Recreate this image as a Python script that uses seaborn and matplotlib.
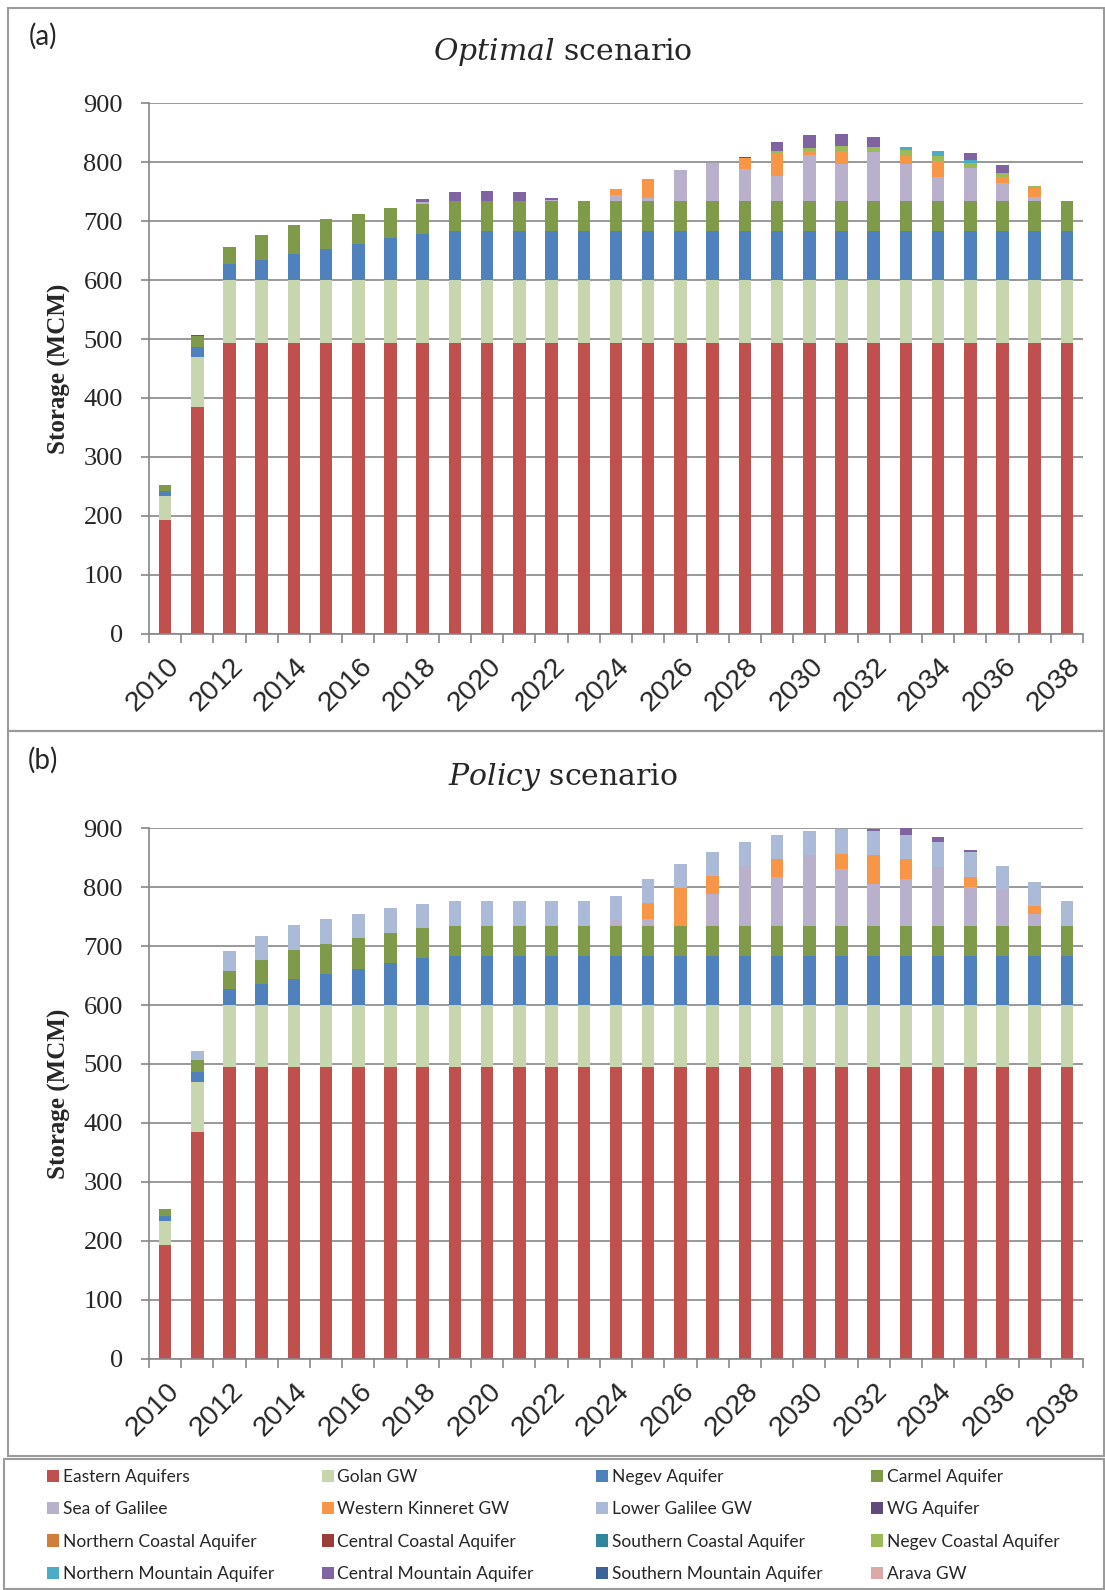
import numpy as np
import pandas as pd
import matplotlib
matplotlib.use("Agg")
import matplotlib.pyplot as plt
import matplotlib.transforms as mtransforms
from matplotlib.patches import Patch, Rectangle
import seaborn as sns

# ---------------------------------------------------------------- data (MCM)
years = [2010, 2011, 2012, 2013, 2014, 2015, 2016, 2017, 2018, 2019,
         2020, 2021, 2022, 2023, 2024, 2025, 2026, 2027, 2028, 2029,
         2030, 2031, 2032, 2033, 2034, 2035, 2036, 2037, 2038]
year_labels = [str(y) for y in years]

# sources shared by both scenarios
eastern = [192, 385, 494, 494, 494, 494, 494, 494, 494, 494,
           494, 494, 494, 494, 494, 494, 494, 494, 494, 494,
           494, 494, 494, 494, 494, 494, 494, 494, 494]
golan = [42, 84, 106, 106, 106, 106, 106, 106, 106, 106,
         106, 106, 106, 106, 106, 106, 106, 106, 106, 106,
         106, 106, 106, 106, 106, 106, 106, 106, 106]
negev = [8, 17, 27, 35, 44, 53, 62, 71, 79, 84,
         84, 84, 84, 84, 84, 84, 84, 84, 84, 84,
         84, 84, 84, 84, 84, 84, 84, 84, 84]
carmel = [11, 20, 30, 41, 50, 51, 51, 52, 51, 51,
          51, 51, 51, 51, 51, 51, 51, 51, 51, 51,
          51, 51, 51, 51, 51, 51, 51, 51, 51]

# Optimal scenario
opt_sea_galilee = [0, 0, 0, 0, 0, 0, 0, 0, 3, 0,
                   0, 0, 1.5, 0, 9, 4.5, 51.5, 63.5, 53, 41,
                   77.5, 62, 83, 62, 40, 55, 30.5, 5.5, 0]
opt_w_kinneret = [0, 0, 0, 0, 0, 0, 0, 0, 0, 0,
                  0, 0, 0, 0, 10.5, 32, 0, 0, 20, 39.5,
                  6, 23, 0, 14.5, 27.5, 0, 9, 16, 0]
opt_negev_coastal = [0, 0, 0, 0, 0, 0, 0, 0, 0, 0,
                     0, 0, 0, 0, 0, 0, 0, 0, 0, 3,
                     5.5, 8, 8.5, 9, 9, 8, 7, 3.5, 0]
opt_n_mountain = [0, 0, 0, 0, 0, 0, 0, 0, 0, 0,
                  0, 0, 0, 0, 0, 0, 0, 0, 0, 0,
                  0, 0, 0, 5, 8, 6, 0, 0, 0]
opt_c_mountain = [0, 0, 0, 0, 0, 0, 0, 0, 5.5, 14.5,
                  16.5, 14.5, 2.5, 0, 0, 0, 0, 0, 0, 16,
                  23, 20.5, 17, 0, 0, 11, 13.5, 0, 0]
opt_s_mountain = [0, 1.5, 0, 0, 0, 0, 0, 0, 0, 0,
                  0, 0, 0, 0, 0, 0, 0, 0, 1.5, 0,
                  0, 0, 0, 0, 0, 0, 0, 0, 0]

# Policy scenario
pol_sea_galilee = [0, 0, 0, 0, 0, 0, 0, 0, 0, 0,
                   0, 0, 0, 0, 9, 11.5, 0, 54, 100.5, 82.5,
                   119.5, 96, 70, 79, 99.5, 65, 61, 19.5, 0]
pol_w_kinneret = [0, 0, 0, 0, 0, 0, 0, 0, 0, 0,
                  0, 0, 0, 0, 0, 26.5, 63, 29.5, 0, 30,
                  0, 25.5, 49.5, 33.5, 0, 18, 0, 13.5, 0]
pol_l_galilee = [0, 16.5, 34, 41, 41.5, 41.5, 41.5, 42, 41.5, 41.5,
                 41.5, 41.5, 41.5, 41.5, 40.5, 41, 41, 41.5, 41, 40.5,
                 40.5, 42.5, 41.5, 40.5, 41.5, 41, 40.5, 41.5, 41.5]
pol_c_mountain = [0, 0, 0, 0, 0, 0, 0, 0, 0, 0,
                  0, 0, 0, 0, 0, 0, 0, 0, 0, 0,
                  0, 0, 2, 14, 10, 3.5, 0, 0, 0]

# ---------------------------------------------------------------- styling
sources = ["Eastern Aquifers", "Golan GW", "Negev Aquifer", "Carmel Aquifer",
           "Sea of Galilee", "Western Kinneret GW", "Lower Galilee GW", "WG Aquifer",
           "Northern Coastal Aquifer", "Central Coastal Aquifer",
           "Southern Coastal Aquifer", "Negev Coastal Aquifer",
           "Northern Mountain Aquifer", "Central Mountain Aquifer",
           "Southern Mountain Aquifer", "Arava GW"]
colors = {
    "Eastern Aquifers": "#C0504D",
    "Golan GW": "#C7D6AE",
    "Negev Aquifer": "#4F81BD",
    "Carmel Aquifer": "#7F9A48",
    "Sea of Galilee": "#B9B0CB",
    "Western Kinneret GW": "#F79646",
    "Lower Galilee GW": "#AABAD7",
    "WG Aquifer": "#604A7B",
    "Northern Coastal Aquifer": "#D07E3A",
    "Central Coastal Aquifer": "#9C3C3A",
    "Southern Coastal Aquifer": "#31859C",
    "Negev Coastal Aquifer": "#9BBB59",
    "Northern Mountain Aquifer": "#4BACC6",
    "Central Mountain Aquifer": "#8064A2",
    "Southern Mountain Aquifer": "#3B6399",
    "Arava GW": "#DBA9A8",
}

optimal_layers = [
    ("Eastern Aquifers", eastern), ("Golan GW", golan),
    ("Negev Aquifer", negev), ("Carmel Aquifer", carmel),
    ("Sea of Galilee", opt_sea_galilee), ("Western Kinneret GW", opt_w_kinneret),
    ("Negev Coastal Aquifer", opt_negev_coastal),
    ("Northern Mountain Aquifer", opt_n_mountain),
    ("Central Mountain Aquifer", opt_c_mountain),
    ("Southern Mountain Aquifer", opt_s_mountain),
]
policy_layers = [
    ("Eastern Aquifers", eastern), ("Golan GW", golan),
    ("Negev Aquifer", negev), ("Carmel Aquifer", carmel),
    ("Sea of Galilee", pol_sea_galilee), ("Western Kinneret GW", pol_w_kinneret),
    ("Lower Galilee GW", pol_l_galilee),
    ("Central Mountain Aquifer", pol_c_mountain),
]

sns.set_theme(style="white")
plt.rcParams["font.family"] = ["Liberation Serif", "DejaVu Serif"]
plt.rcParams["mathtext.fontset"] = "custom"
plt.rcParams["mathtext.rm"] = "DejaVu Serif"
plt.rcParams["mathtext.it"] = "DejaVu Serif:italic"

GRAY = "#878787"
W, H = 1105, 1590
fig = plt.figure(figsize=(W / 100, H / 100), dpi=100)
fig.patch.set_facecolor("white")


def fx(px):
    return px / W


def fy(py):
    return 1 - py / H


def draw_panel(ax, layers):
    tops = np.cumsum(np.array([v for _, v in layers], dtype=float), axis=0)
    # paint cumulative totals from the top layer down so each source shows
    for i in range(len(layers) - 1, -1, -1):
        name = layers[i][0]
        df = pd.DataFrame({"year": year_labels, "top": tops[i]})
        sns.barplot(data=df, x="year", y="top", order=year_labels,
                    color=colors[name], saturation=1, width=0.39,
                    errorbar=None, linewidth=0, ax=ax)
    ax.set_xlim(-0.5, len(years) - 0.5)
    ax.set_ylim(0, 900)
    ax.set_yticks(np.arange(0, 901, 100))
    ax.set_yticklabels([str(v) for v in range(0, 901, 100)],
                       fontsize=19, family="Liberation Serif")
    ax.set_xticks(np.arange(0, len(years), 2))
    ax.set_xticklabels(year_labels[::2], rotation=45, ha="right",
                       fontsize=20.5, family="Liberation Sans")
    ax.set_xticks(np.arange(-0.5, len(years), 1), minor=True)
    ax.tick_params(axis="x", which="major", length=0, pad=14)
    ax.tick_params(axis="x", which="minor", length=6.5, width=1.2,
                   color=GRAY, direction="out", bottom=True)
    ax.tick_params(axis="y", length=5.8, width=1.2, color=GRAY,
                   pad=13, direction="out", left=True)
    offset = mtransforms.ScaledTranslation(19 / 100, 0, fig.dpi_scale_trans)
    for lab in ax.get_xticklabels():
        lab.set_transform(lab.get_transform() + offset)
    ax.yaxis.grid(True, color=GRAY, linewidth=1.2)
    ax.xaxis.grid(False)
    ax.set_axisbelow(True)
    for side in ("top", "right"):
        ax.spines[side].set_visible(False)
    for side in ("left", "bottom"):
        ax.spines[side].set_color(GRAY)
        ax.spines[side].set_linewidth(1.2)
    ax.set_xlabel("")
    ax.set_ylabel("Storage (MCM)", fontsize=18, fontweight="bold",
                  family="Liberation Serif")
    ax.yaxis.set_label_coords(-0.0835, 0.5)


ax_a = fig.add_axes([fx(149), fy(633.6), fx(934), 530.2 / H])
ax_b = fig.add_axes([fx(149), fy(1358.5), fx(934), 530.2 / H])
draw_panel(ax_a, optimal_layers)
draw_panel(ax_b, policy_layers)

# titles and panel letters
fig.text(fx(563), fy(52), r"$\mathit{Optimal}$ scenario", ha="center",
         va="center", fontsize=21.5, family="DejaVu Serif")
fig.text(fx(563), fy(776.5), r"$\mathit{Policy}$ scenario", ha="center",
         va="center", fontsize=21.5, family="DejaVu Serif")
fig.text(fx(43), fy(36), "(a)", ha="center", va="center", fontsize=20,
         family="Lato")
fig.text(fx(43), fy(760), "(b)", ha="center", va="center", fontsize=20,
         family="Lato")

# panel frames
for (x0, y0, x1, y1) in [(8, 7.5, 1104, 731), (8, 731, 1104, 1456),
                         (4, 1459, 1104, 1589)]:
    fig.add_artist(Rectangle((fx(x0), fy(y1)), fx(x1 - x0), (y1 - y0) / H,
                             transform=fig.transFigure, fill=False,
                             edgecolor="#9A9A9A", linewidth=1.5))

# legend: four columns, row-major order
col_x = [47, 321.5, 596, 871]
for c in range(4):
    names = sources[c::4]
    handles = [Patch(facecolor=colors[n], edgecolor="none") for n in names]
    fig.legend(handles, names, loc="upper left",
               bbox_to_anchor=(fx(col_x[c]), fy(1469)),
               frameon=False, borderpad=0, borderaxespad=0,
               handlelength=0.7, handleheight=0.7, handletextpad=0.2,
               labelspacing=0.94, prop={"family": "Lato", "size": 12.5})

fig.savefig("out.png", dpi=100, facecolor="white")
